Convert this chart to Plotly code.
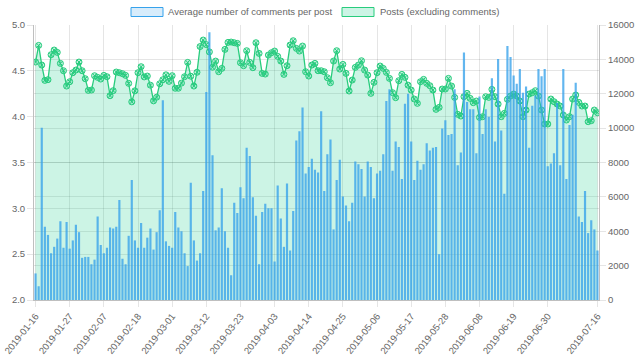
import plotly.graph_objects as go
import pandas as pd

dates = [d.strftime("%Y-%m-%d") for d in pd.date_range("2019-01-16", "2019-07-16", freq="D")]

avg_comments = [
    2.29, 2.15, 3.88, 2.80, 2.71, 2.51, 2.58, 2.67, 2.86, 2.57,
    2.85, 2.56, 2.65, 2.82, 2.74, 2.46, 2.47, 2.47, 2.39, 2.44,
    2.91, 2.60, 2.51, 2.57, 2.79, 2.78, 2.80, 3.09, 2.45, 2.39,
    2.70, 3.31, 2.65, 2.57, 2.84, 2.57, 2.68, 2.78, 2.55, 2.74,
    2.98, 4.18, 2.64, 2.59, 2.57, 2.96, 2.79, 2.75, 2.51, 2.37,
    3.28, 2.65, 2.43, 2.51, 3.19, 4.27, 4.92, 3.58, 2.76, 2.79,
    3.22, 2.75, 2.57, 2.27, 3.06, 2.95, 3.23, 3.11, 3.66, 3.57,
    3.12, 2.92, 2.39, 2.96, 3.05, 3.00, 3.00, 2.42, 3.25, 2.89,
    2.58, 3.27, 2.54, 2.97, 3.74, 3.84, 4.10, 3.38, 3.45, 3.54,
    3.42, 3.39, 4.06, 3.19, 3.59, 3.75, 2.77, 3.31, 3.53, 3.13,
    3.03, 2.86, 3.06, 3.51, 3.48, 3.43, 3.13, 3.51, 3.45, 3.11,
    3.38, 3.41, 3.59, 4.17, 4.30, 3.41, 3.73, 3.67, 3.32, 4.14,
    4.25, 3.73, 3.31, 3.52, 3.42, 3.48, 3.71, 3.63, 3.66, 3.67,
    2.50, 3.87, 3.96, 3.80, 3.81, 4.30, 3.47, 3.61, 4.70, 4.16,
    4.08, 4.08, 3.60, 4.22, 3.81, 4.08, 4.00, 4.42, 3.73, 4.63,
    3.85, 3.16, 4.77, 4.65, 4.45, 4.36, 4.52, 4.26, 4.33, 3.66,
    4.12, 4.23, 4.52, 4.44, 4.52, 3.46, 3.49, 3.60, 4.15, 3.47,
    4.52, 3.32, 3.91, 4.02, 4.37, 2.91, 2.85, 3.19, 2.73, 2.87,
    2.77, 2.54,
]

posts = [
    13845, 14814, 13670, 12778, 12817, 14271, 14543, 14407, 13767, 13340,
    12448, 12700, 13224, 13379, 13845, 13340, 12875, 12196, 12215, 13049,
    12952, 12855, 13069, 12990, 11885, 12177, 13263, 13224, 13166, 13069,
    12604, 11530, 12170, 13224, 13573, 12980, 13030, 12500, 11585, 11800,
    12580, 12815, 13100, 12720, 13050, 12320, 12320, 12620, 12990, 13825,
    13020, 12448, 13250, 14745, 15124, 14860, 14436, 13544, 13900, 13282,
    13476, 14581, 14988, 15008, 14969, 14930, 13806, 13631, 14504, 13825,
    13515, 14969, 14349, 13185, 13146, 14252, 14388, 14484, 14174, 13903,
    13127, 13631, 14834, 15085, 14640, 14484, 14775, 13282, 13030, 13670,
    13767, 13340, 13340, 13282, 12933, 12642, 13903, 14504, 13437, 13709,
    13185, 12158, 12797, 13534, 13670, 13922, 13379, 13088, 12022, 12662,
    13224, 13612, 13476, 13243, 12894, 12061, 11770, 12759, 13127, 12953,
    12500, 12216, 11692, 11440, 12700, 12836, 12604, 12468, 12216, 11091,
    11207, 12274, 12274, 12894, 12448, 11789, 10800, 10703, 11828, 12022,
    11731, 11479, 11576, 10625, 10664, 11828, 11789, 12254, 11828, 11400,
    10665, 10858, 11673, 11867, 11983, 11867, 11576, 10665, 11052, 11983,
    12061, 12177, 11867, 11052, 10238, 10238, 11692, 11537, 11401, 11285,
    10762, 10471, 10665, 11692, 11925, 11498, 11285, 11285, 10374, 10432,
    11052, 10897,
]

tick_labels = ["2019-01-16", "2019-01-27", "2019-02-07", "2019-02-18", "2019-03-01",
               "2019-03-12", "2019-03-23", "2019-04-03", "2019-04-14", "2019-04-25",
               "2019-05-06", "2019-05-17", "2019-05-28", "2019-06-08", "2019-06-19",
               "2019-06-30", "2019-07-16"]

bar_name = "Average number of comments per post"
line_name = "Posts (excluding comments)"

GREEN = "rgb(40,204,125)"
BLUE = "rgb(54,162,235)"
GRID = "rgba(0,0,0,0.1)"
FONT = dict(family="Liberation Sans, Arial, sans-serif", size=9.5, color="#666")

fig = go.Figure()
fig.add_trace(go.Scatter(
    x=dates, y=posts, name=line_name, yaxis="y",
    mode="lines+markers", fill="tozeroy", fillcolor="rgba(52,210,150,0.25)",
    line=dict(color=GREEN, width=1.3),
    marker=dict(symbol="circle-x", size=6, color="rgba(52,210,150,0.3)",
                line=dict(color=GREEN, width=1)),
))
fig.add_trace(go.Bar(
    x=dates, y=avg_comments, name=bar_name, yaxis="y2",
    marker=dict(color="rgba(54,162,235,0.78)", line=dict(width=0)),
))

axis_common = dict(showgrid=True, gridcolor=GRID, ticks="outside", ticklen=6, tickcolor=GRID,
                   showline=True, linecolor="rgba(0,0,0,0.25)", tickfont=FONT, automargin=False)

fig.update_layout(
    width=640, height=361,
    margin=dict(l=34, r=41, t=25, b=61),
    paper_bgcolor="white", plot_bgcolor="white",
    font=FONT, showlegend=False, bargap=0.3,
    xaxis=dict(type="category", tickmode="array", tickvals=tick_labels, ticktext=tick_labels,
               tickangle=-52, **axis_common),
    yaxis=dict(side="right", range=[0, 16000], dtick=2000, tickformat="d",
               zeroline=False, **axis_common),
    yaxis2=dict(overlaying="y", side="left", range=[2, 5], dtick=0.5, tickformat=".1f",
                zeroline=False, **axis_common),
)

# legend drawn as boxes + text at the top (page pixel -> paper coords)
def px_x(px):
    return (px - 34) / 565.0

def px_y(py):
    return (300 - py) / 275.0

fig.add_shape(type="rect", xref="paper", yref="paper",
              x0=px_x(131), x1=px_x(163), y0=px_y(16.5), y1=px_y(7.5),
              fillcolor="rgba(54,162,235,0.2)", line=dict(color=BLUE, width=1))
fig.add_shape(type="rect", xref="paper", yref="paper",
              x0=px_x(342), x1=px_x(374), y0=px_y(16.5), y1=px_y(7.5),
              fillcolor="rgba(52,210,150,0.25)", line=dict(color=GREEN, width=1))
fig.add_annotation(xref="paper", yref="paper", x=px_x(166), y=px_y(12),
                   text=bar_name, showarrow=False, xanchor="left", yanchor="middle", font=FONT)
fig.add_annotation(xref="paper", yref="paper", x=px_x(378), y=px_y(12),
                   text=line_name, showarrow=False, xanchor="left", yanchor="middle", font=FONT)

fig.write_html("out.html", config={"displayModeBar": False},
               post_script="document.body.style.margin='0';document.body.style.overflow='hidden';")
